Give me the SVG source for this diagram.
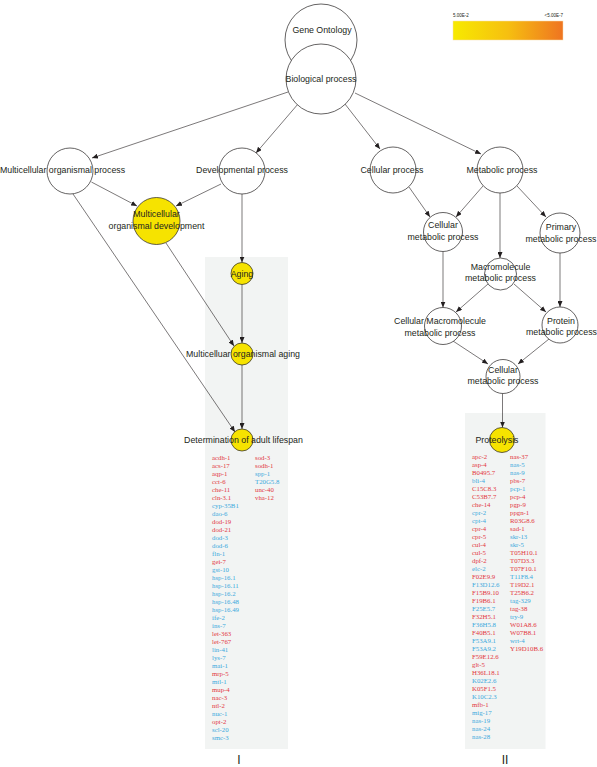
<svg xmlns="http://www.w3.org/2000/svg" width="597" height="767" viewBox="0 0 597 767">
<style>
.n{fill:#ffffff;stroke:#231f20;stroke-width:0.7}
.y{fill:#f6e300;stroke:#231f20;stroke-width:0.7}
.t{font-family:"Liberation Sans",Arial,sans-serif;font-size:8.8px;fill:#231f20;text-anchor:middle}
.e{stroke:#231f20;stroke-width:0.6;fill:none;marker-end:url(#ah)}
.g{font-family:"Liberation Serif","Times New Roman",serif;font-size:6.8px}
.r{fill:#e2363d}
.b{fill:#3aa9dd}
.p{fill:#f2f4f3}
</style>
<defs>
<marker id="ah" markerWidth="6" markerHeight="5" refX="6" refY="2.5" orient="auto" markerUnits="userSpaceOnUse">
<path d="M0,0 L6,2.5 L0,5 z" fill="#231f20"/>
</marker>
<linearGradient id="lg" x1="0" y1="0" x2="1" y2="0">
<stop offset="0" stop-color="#f7ea00"/>
<stop offset="0.5" stop-color="#f6bf10"/>
<stop offset="1" stop-color="#ef7421"/>
</linearGradient>
</defs>
<g id="legend">
<rect x="453" y="21" width="110" height="19" fill="url(#lg)" stroke="#f6dfae" stroke-width="0.5"/>
<text x="453" y="17" font-family="Liberation Sans,Arial,sans-serif" font-size="4.5" fill="#231f20">5.00E-2</text>
<text x="563" y="17" font-family="Liberation Sans,Arial,sans-serif" font-size="4.5" fill="#231f20" text-anchor="end">&lt;5.00E-7</text>
</g>
<g id="panels">
<rect class="p" x="205" y="257" width="83" height="492"/>
<rect class="p" x="465" y="413" width="80.5" height="336"/>
</g>
<g id="connectors">
<line class="e" x1="288" y1="92" x2="92" y2="158"/>
<line class="e" x1="298" y1="104" x2="256" y2="153"/>
<line class="e" x1="345" y1="104" x2="380" y2="149"/>
<line class="e" x1="355" y1="93" x2="481" y2="154"/>
<line class="e" x1="91.4" y1="182" x2="137" y2="206"/>
<line class="e" x1="221" y1="184" x2="176" y2="206"/>
<line class="e" x1="242" y1="194" x2="242" y2="262.5"/>
<line class="e" x1="73" y1="194" x2="235" y2="432"/>
<line class="e" x1="166" y1="243" x2="234" y2="346"/>
<line class="e" x1="242" y1="284.5" x2="242" y2="343"/>
<line class="e" x1="242" y1="365" x2="242" y2="429"/>
<line class="e" x1="409" y1="187" x2="430" y2="217"/>
<line class="e" x1="483" y1="186" x2="456" y2="217"/>
<line class="e" x1="500" y1="193" x2="500" y2="258"/>
<line class="e" x1="517" y1="186" x2="546" y2="217"/>
<line class="e" x1="443" y1="251.5" x2="443" y2="307.5"/>
<line class="e" x1="488" y1="284" x2="456" y2="312"/>
<line class="e" x1="514" y1="284" x2="546" y2="312"/>
<line class="e" x1="560" y1="253" x2="560" y2="307"/>
<line class="e" x1="453" y1="341" x2="488" y2="364"/>
<line class="e" x1="549" y1="339" x2="518" y2="364"/>
<line class="e" x1="502.5" y1="393.5" x2="502.5" y2="427.5"/>
</g>
<g id="n-go"><circle class="n" cx="321" cy="40" r="36"/><text class="t" x="322" y="33" font-size="10.2">Gene Ontology</text></g>
<g id="n-bp"><circle class="n" cx="321" cy="79" r="35"/><text class="t" x="321" y="82">Biological process</text></g>
<g id="n-mop"><circle class="n" cx="70" cy="171" r="23"/><text class="t" x="62.5" y="173">Multicellular organismal process</text></g>
<g id="n-dev"><circle class="n" cx="242" cy="171" r="23"/><text class="t" x="242" y="173">Developmental process</text></g>
<g id="n-cp"><circle class="n" cx="393" cy="170" r="23"/><text class="t" x="392" y="173">Cellular process</text></g>
<g id="n-mp"><circle class="n" cx="500" cy="170" r="23"/><text class="t" x="502" y="173">Metabolic process</text></g>
<g id="n-mod"><circle class="y" cx="156.5" cy="221" r="23.5"/><text class="t" x="156.5" y="217">Multicellular</text><text class="t" x="156.5" y="229">organismal development</text></g>
<g id="n-aging"><circle class="y" cx="242" cy="273.5" r="11"/><text class="t" x="242" y="276.5">Aging</text></g>
<g id="n-moa"><circle class="y" cx="242" cy="354" r="11"/><text class="t" x="243" y="357">Multicelluar organismal aging</text></g>
<g id="n-dal"><circle class="y" cx="242" cy="440" r="11"/><text class="t" x="243.5" y="443">Determination of adult lifespan</text></g>
<g id="n-cmp1"><circle class="n" cx="443" cy="232" r="19.5"/><text class="t" x="443" y="228">Cellular</text><text class="t" x="443" y="240">metabolic process</text></g>
<g id="n-pmp"><circle class="n" cx="560" cy="233" r="20"/><text class="t" x="561" y="230">Primary</text><text class="t" x="561" y="241.5">metabolic process</text></g>
<g id="n-mmp"><circle class="n" cx="500.5" cy="274" r="16"/><text class="t" x="500.5" y="270">Macromolecule</text><text class="t" x="500.5" y="281">metabolic process</text></g>
<g id="n-cmmp"><circle class="n" cx="443" cy="326" r="18.5"/><text class="t" x="440" y="324">Cellular Macromolecule</text><text class="t" x="440" y="336">metabolic process</text></g>
<g id="n-prmp"><circle class="n" cx="560" cy="325" r="18"/><text class="t" x="561" y="323.5">Protein</text><text class="t" x="561.5" y="335">metabolic process</text></g>
<g id="n-cmp2"><circle class="n" cx="503" cy="376.5" r="17"/><text class="t" x="503" y="372.5">Cellular</text><text class="t" x="503" y="384">metabolic process</text></g>
<g id="n-prot"><circle class="y" cx="502" cy="440" r="12.5"/><text class="t" x="497" y="443">Proteolysis</text></g>
<g id="genes-I" class="g">
<text class="r" x="212" y="460">acdh-1</text>
<text class="r" x="212" y="468">acs-17</text>
<text class="r" x="212" y="476">aqp-1</text>
<text class="r" x="212" y="484">cct-6</text>
<text class="r" x="212" y="492">che-11</text>
<text class="r" x="212" y="500">cln-3.1</text>
<text class="b" x="212" y="508">cyp-35B1</text>
<text class="b" x="212" y="516">dao-6</text>
<text class="r" x="212" y="524">dod-19</text>
<text class="r" x="212" y="532">dod-21</text>
<text class="b" x="212" y="540">dod-3</text>
<text class="b" x="212" y="548">dod-6</text>
<text class="b" x="212" y="556">fln-1</text>
<text class="r" x="212" y="564">gei-7</text>
<text class="b" x="212" y="572">gst-10</text>
<text class="b" x="212" y="580">hsp-16.1</text>
<text class="b" x="212" y="588">hsp-16.11</text>
<text class="b" x="212" y="596">hsp-16.2</text>
<text class="b" x="212" y="604">hsp-16.48</text>
<text class="b" x="212" y="612">hsp-16.49</text>
<text class="b" x="212" y="620">ife-2</text>
<text class="b" x="212" y="628">ins-7</text>
<text class="r" x="212" y="636">let-363</text>
<text class="r" x="212" y="644">let-767</text>
<text class="b" x="212" y="652">lin-41</text>
<text class="b" x="212" y="660">lys-7</text>
<text class="b" x="212" y="668">mai-1</text>
<text class="r" x="212" y="676">mrp-5</text>
<text class="b" x="212" y="684">mtl-1</text>
<text class="r" x="212" y="692">mup-4</text>
<text class="r" x="212" y="700">nac-3</text>
<text class="r" x="212" y="708">ntl-2</text>
<text class="b" x="212" y="716">nuc-1</text>
<text class="r" x="212" y="724">opt-2</text>
<text class="b" x="212" y="732">scl-20</text>
<text class="b" x="212" y="740">smc-3</text>
<text class="r" x="255" y="460">sod-3</text>
<text class="r" x="255" y="468">sodh-1</text>
<text class="b" x="255" y="476">spp-1</text>
<text class="b" x="255" y="484">T20G5.8</text>
<text class="r" x="255" y="492">unc-40</text>
<text class="r" x="255" y="500">vha-12</text>
</g>
<g id="genes-II" class="g">
<text class="r" x="472" y="458.5">apc-2</text>
<text class="r" x="472" y="466.5">asp-4</text>
<text class="r" x="472" y="474.5">B0495.7</text>
<text class="b" x="472" y="482.5">bli-4</text>
<text class="r" x="472" y="490.5">C15C8.3</text>
<text class="r" x="472" y="498.5">C53B7.7</text>
<text class="r" x="472" y="506.5">che-14</text>
<text class="b" x="472" y="514.5">cpr-2</text>
<text class="b" x="472" y="522.5">cpt-4</text>
<text class="r" x="472" y="530.5">cpr-4</text>
<text class="r" x="472" y="538.5">cpr-5</text>
<text class="r" x="472" y="546.5">cul-4</text>
<text class="r" x="472" y="554.5">cul-5</text>
<text class="r" x="472" y="562.5">dpf-2</text>
<text class="b" x="472" y="570.5">elc-2</text>
<text class="r" x="472" y="578.5">F02E9.9</text>
<text class="b" x="472" y="586.5">F13D12.6</text>
<text class="r" x="472" y="594.5">F15B9.10</text>
<text class="r" x="472" y="602.5">F19B6.1</text>
<text class="b" x="472" y="610.5">F25E5.7</text>
<text class="r" x="472" y="618.5">F32H5.1</text>
<text class="b" x="472" y="626.5">F36H5.8</text>
<text class="r" x="472" y="634.5">F40B5.1</text>
<text class="b" x="472" y="642.5">F53A9.1</text>
<text class="b" x="472" y="650.5">F53A9.2</text>
<text class="r" x="472" y="658.5">F59E12.6</text>
<text class="r" x="472" y="666.5">glt-5</text>
<text class="r" x="472" y="674.5">H36L18.1</text>
<text class="b" x="472" y="682.5">K02E2.6</text>
<text class="r" x="472" y="690.5">K05F1.5</text>
<text class="b" x="472" y="698.5">K10C2.3</text>
<text class="r" x="472" y="706.5">mfb-1</text>
<text class="b" x="472" y="714.5">mig-17</text>
<text class="b" x="472" y="722.5">nas-19</text>
<text class="b" x="472" y="730.5">nas-24</text>
<text class="b" x="472" y="738.5">nas-28</text>
<text class="r" x="510" y="458.5">nas-37</text>
<text class="b" x="510" y="466.5">nas-5</text>
<text class="b" x="510" y="474.5">nas-9</text>
<text class="r" x="510" y="482.5">pbs-7</text>
<text class="b" x="510" y="490.5">pcp-1</text>
<text class="r" x="510" y="498.5">pcp-4</text>
<text class="r" x="510" y="506.5">pgp-9</text>
<text class="r" x="510" y="514.5">ppgn-1</text>
<text class="r" x="510" y="522.5">R03G8.6</text>
<text class="r" x="510" y="530.5">sad-1</text>
<text class="b" x="510" y="538.5">skr-13</text>
<text class="b" x="510" y="546.5">skr-5</text>
<text class="r" x="510" y="554.5">T05H10.1</text>
<text class="r" x="510" y="562.5">T07D3.3</text>
<text class="r" x="510" y="570.5">T07F10.1</text>
<text class="b" x="510" y="578.5">T11F8.4</text>
<text class="r" x="510" y="586.5">T19D2.1</text>
<text class="r" x="510" y="594.5">T25B6.2</text>
<text class="b" x="510" y="602.5">tag-329</text>
<text class="r" x="510" y="610.5">tag-38</text>
<text class="b" x="510" y="618.5">try-9</text>
<text class="r" x="510" y="626.5">W01A8.6</text>
<text class="r" x="510" y="634.5">W07B8.1</text>
<text class="b" x="510" y="642.5">wrt-4</text>
<text class="r" x="510" y="650.5">Y19D10B.6</text>
</g>
<g id="labels">
<text x="239" y="763.5" font-family="Liberation Sans,Arial,sans-serif" font-size="12" fill="#231f20" text-anchor="middle">I</text>
<text x="505" y="763.5" font-family="Liberation Sans,Arial,sans-serif" font-size="12" fill="#231f20" text-anchor="middle">II</text>
</g>
</svg>
